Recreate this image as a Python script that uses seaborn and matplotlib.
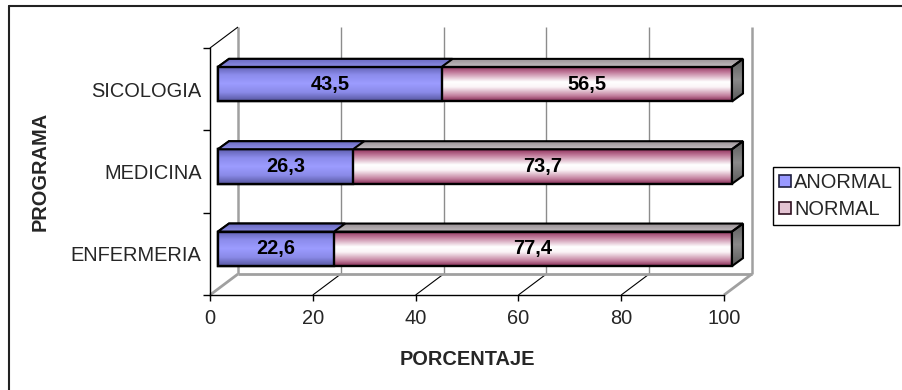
import numpy as np
import pandas as pd
import matplotlib
matplotlib.use("Agg")
import matplotlib.pyplot as plt
import matplotlib.transforms as mtransforms
from matplotlib.colors import LinearSegmentedColormap
from matplotlib.patches import Polygon, Patch
from matplotlib.lines import Line2D
import seaborn as sns

# ---- data -------------------------------------------------------------
programas = ["SICOLOGIA", "MEDICINA", "ENFERMERIA"]
anormal = [43.5, 26.3, 22.6]
normal = [56.5, 73.7, 77.4]
x_ticks = [0, 20, 40, 60, 80, 100]
series = ["ANORMAL", "NORMAL"]

# ---- style ------------------------------------------------------------
sns.set_theme(style="white")
plt.rcParams["font.family"] = ["Liberation Sans", "DejaVu Sans"]
FS = 14.4

W, H, DPI = 902, 390, 100
fig = plt.figure(figsize=(W / DPI, H / DPI), dpi=DPI)
fig.patch.set_facecolor("white")
ax = fig.add_axes([210 / W, 1 - 295 / H, (724 - 210) / W, (295 - 48) / H])
ax.set_facecolor("none")

df = pd.DataFrame({
    "programa": programas,
    "anormal": anormal,
    "total": np.add(anormal, normal),
})

BAR_W = 0.42
# NORMAL stacked on top of ANORMAL: full-length bar first, ANORMAL over it
sns.barplot(data=df, x="total", y="programa", orient="h", color="#D9B3C6",
            saturation=1, width=BAR_W, edgecolor="black", linewidth=1.7,
            ax=ax, zorder=3)
n_first = len(ax.patches)
sns.barplot(data=df, x="anormal", y="programa", orient="h", color="#9999FF",
            saturation=1, width=BAR_W, edgecolor="black", linewidth=1.7,
            ax=ax, zorder=7)
normal_patches = list(ax.patches[:n_first])
anormal_patches = list(ax.patches[n_first:])

XLIM = (0, 100)
YLIM = (len(programas) - 0.5, -0.5)
ax.set_xlim(*XLIM)
ax.set_ylim(*YLIM)

# ---- pseudo-3D depth offsets (display pixels, y up) -------------------
FRONT = np.array([8.0, 5.0])     # front face of the bars
BACK = np.array([19.0, 13.0])    # back face of the bars
WALL = np.array([28.0, 21.0])    # back wall
front_tr = ax.transData + mtransforms.Affine2D().translate(*FRONT)
ident = mtransforms.IdentityTransform()


def disp(x, y, off=(0, 0)):
    p = ax.transData.transform((x, y))
    return p + np.asarray(off)


def line(p0, p1, color, lw, z):
    ln = Line2D([p0[0], p1[0]], [p0[1], p1[1]], color=color, lw=lw,
                transform=ident, zorder=z, solid_capstyle="butt")
    ln.set_clip_on(False)
    ax.add_line(ln)


# ---- walls and floor --------------------------------------------------
y_bot, y_top = YLIM
for v in x_ticks:
    edge = v in (x_ticks[0], x_ticks[-1])
    line(disp(v, y_bot, WALL), disp(v, y_top, WALL),
         "#A0A0A0" if edge else "#8C8C8C", 1.8 if edge else 1.0, 1)
    line(disp(v, y_bot), disp(v, y_bot, WALL),
         "#A0A0A0" if edge else "black", 2.0 if edge else 0.8, 1)
line(disp(x_ticks[0], y_bot, WALL), disp(x_ticks[-1], y_bot, WALL), "#A0A0A0", 2.0, 1)
line(disp(x_ticks[0], y_top), disp(x_ticks[0], y_top, WALL), "black", 0.8, 1)

# ---- gradient fills ---------------------------------------------------
cmap_anormal = LinearSegmentedColormap.from_list(
    "anormal", [(0, "#5E5EAE"), (0.25, "#8C8CEC"), (0.5, "#9C9CFF"),
                (0.75, "#8A8AE8"), (1, "#56569E")])
cmap_normal = LinearSegmentedColormap.from_list(
    "normal", [(0, "#8E2F5A"), (0.18, "#C27C9C"), (0.45, "#FFFFFF"),
               (0.6, "#FBF4F7"), (0.85, "#C3809E"), (1, "#852B55")])
cmap_top_anormal = LinearSegmentedColormap.from_list(
    "top_a", [(0, "#6A6AC0"), (1, "#8E8EE6")])
cmap_top_normal = LinearSegmentedColormap.from_list(
    "top_n", [(0, "#9A9296"), (1, "#C4BEC1")])
cmap_side = LinearSegmentedColormap.from_list(
    "side", [(0, "#5C5C5C"), (0.5, "#8A8A8A"), (1, "#5A5A5A")])

grad = np.linspace(0, 1, 256).reshape(-1, 1)


def fill_front(patch, cmap, z):
    patch.set_transform(front_tr)
    patch.set_clip_on(False)
    patch.set_facecolor("none")
    bb = patch.get_bbox()
    im = ax.imshow(grad, cmap=cmap, aspect="auto", origin="upper",
                   extent=(bb.x0, bb.x1, bb.y1, bb.y0),
                   interpolation="bilinear", transform=front_tr, zorder=z)
    im.set_clip_box(fig.bbox)
    im.set_clip_path(patch)


def fill_poly(pts, cmap, z, lw=1.5):
    pts = np.asarray(pts)
    poly = Polygon(pts, closed=True, facecolor="none", edgecolor="black",
                   lw=lw, transform=ident, zorder=z + 0.2, joinstyle="miter")
    poly.set_clip_on(False)
    ax.add_patch(poly)
    x0, y0 = pts.min(axis=0)
    x1, y1 = pts.max(axis=0)
    im = ax.imshow(grad, cmap=cmap, aspect="auto", origin="upper",
                   extent=(x0, x1, y0, y1), interpolation="bilinear",
                   transform=ident, zorder=z)
    im.set_clip_box(fig.bbox)
    im.set_clip_path(poly)


for i in range(len(programas)):
    pn, pa = normal_patches[i], anormal_patches[i]
    bb = pn.get_bbox()
    top_y, bot_y = bb.y0, bb.y1
    start = bb.x0
    end = start + anormal[i] + normal[i]
    mid = start + anormal[i]

    # NORMAL segment: front, top and right side faces
    fill_front(pn, cmap_normal, 2.9)
    fill_poly([disp(start, top_y, FRONT), disp(end, top_y, FRONT),
               disp(end, top_y, BACK), disp(start, top_y, BACK)],
              cmap_top_normal, 3.0)
    fill_poly([disp(end, top_y, FRONT), disp(end, top_y, BACK),
               disp(end, bot_y, BACK), disp(end, bot_y, FRONT)],
              cmap_side, 3.0)

    # ANORMAL segment over it
    fill_front(pa, cmap_anormal, 6.9)
    fill_poly([disp(start, top_y, FRONT), disp(mid, top_y, FRONT),
               disp(mid, top_y, BACK), disp(start, top_y, BACK)],
              cmap_top_anormal, 7.0)

    # value labels on the front faces
    yc = (top_y + bot_y) / 2
    for xc, v in ((start + anormal[i] / 2, anormal[i]),
                  (mid + normal[i] / 2, normal[i])):
        t = ax.text(xc, yc, f"{v:.1f}".replace(".", ","), ha="center",
                    va="center", fontsize=FS, fontweight="bold",
                    color="black", transform=front_tr, zorder=9)
        t.set_clip_on(False)

ax.set_xlim(*XLIM)
ax.set_ylim(*YLIM)

# ---- axes -------------------------------------------------------------
for side in ("top", "right"):
    ax.spines[side].set_visible(False)
for side in ("left", "bottom"):
    ax.spines[side].set_color("black")
    ax.spines[side].set_linewidth(1.0)

ax.set_xticks(x_ticks)
ax.set_xticklabels([str(v) for v in x_ticks])
ax.set_yticks(range(len(programas)))
ax.set_yticklabels(programas)
ax.set_yticks(np.arange(-0.5, len(programas), 1.0), minor=True)
ax.tick_params(axis="x", which="major", bottom=True, direction="out",
               length=4, width=1, color="black", pad=6, labelsize=FS)
ax.tick_params(axis="y", which="major", left=True, length=0, pad=6,
               labelsize=FS)
ax.tick_params(axis="y", which="minor", left=True, direction="out",
               length=5, width=1, color="black")
ax.grid(False)

ax.set_xlabel("PORCENTAJE", fontsize=FS, fontweight="bold", labelpad=16)
ax.set_ylabel("PROGRAMA", fontsize=FS, fontweight="bold")
ax.yaxis.set_label_coords((50 - 210) / (724 - 210), 0.5)

# ---- legend -----------------------------------------------------------
handles = [Patch(facecolor="#9999FF", edgecolor="#202040", lw=1.2, label=series[0]),
           Patch(facecolor="#E3C3D2", edgecolor="#301020", lw=1.2, label=series[1])]
leg = ax.legend(handles=handles, loc="upper left",
                bbox_to_anchor=(773 / W, 1 - 167 / H),
                bbox_transform=fig.transFigure, borderaxespad=0,
                fontsize=FS, frameon=True, fancybox=False, shadow=False,
                framealpha=1, edgecolor="black", handlelength=0.6,
                handleheight=0.6, handletextpad=0.15, labelspacing=0.4,
                borderpad=0.3)
leg.get_frame().set_linewidth(1.0)

# ---- chart border (top and left edges) -------------------------------
fig.add_artist(Line2D([9 / W, 1], [1 - 6 / H, 1 - 6 / H], color="#222222",
                      lw=1.5, transform=fig.transFigure))
fig.add_artist(Line2D([9 / W, 9 / W], [0, 1 - 6 / H], color="#222222",
                      lw=1.5, transform=fig.transFigure))

fig.savefig("out.png", dpi=DPI, facecolor="white")
